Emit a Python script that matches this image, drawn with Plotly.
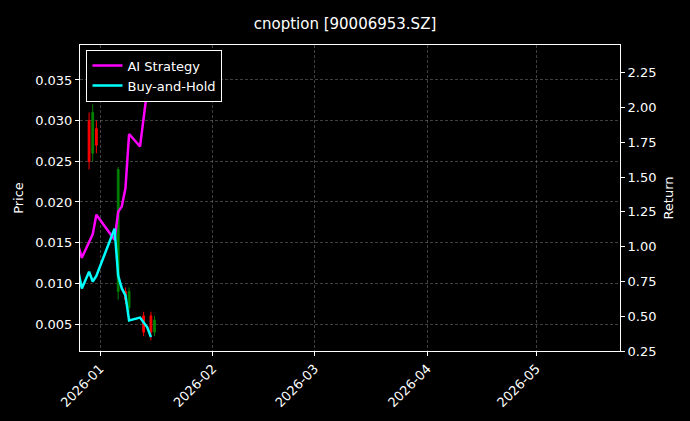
import plotly.graph_objects as go

candle_dates = ["2025-12-26","2025-12-29","2025-12-30","2025-12-31","2026-01-06","2026-01-08","2026-01-09","2026-01-13","2026-01-15","2026-01-16"]
opens  = [0.025,0.030,0.026,0.029,0.009,0.0090,0.0070,0.0060,0.0060,0.0040]
closes = [0.0295,0.025,0.031,0.027,0.024,0.0080,0.0090,0.0040,0.0040,0.0055]
highs  = [0.0300,0.031,0.032,0.030,0.0243,0.0095,0.0095,0.0065,0.0065,0.0060]
lows   = [0.0245,0.024,0.025,0.026,0.0080,0.0075,0.0065,0.0035,0.0030,0.0035]

ai_dates = ["2025-12-26","2025-12-27","2025-12-30","2025-12-31","2026-01-05","2026-01-06","2026-01-07","2026-01-08","2026-01-09","2026-01-12","2026-01-14","2026-01-15"]
ai_ret = [1.01,0.92,1.09,1.23,1.05,1.25,1.29,1.42,1.81,1.72,2.13,2.27]
bh_dates = ["2025-12-26","2025-12-27","2025-12-29","2025-12-30","2025-12-31","2026-01-05","2026-01-06","2026-01-07","2026-01-08","2026-01-09","2026-01-12","2026-01-14","2026-01-15"]
bh_ret = [0.83,0.70,0.82,0.75,0.79,1.13,0.79,0.70,0.65,0.47,0.49,0.42,0.35]

fig = go.Figure()
fig.add_trace(go.Candlestick(x=candle_dates, open=opens, high=highs, low=lows, close=closes,
    increasing=dict(line=dict(color="green", width=1), fillcolor="green"),
    decreasing=dict(line=dict(color="red", width=1), fillcolor="red"),
    whiskerwidth=0, showlegend=False))
fig.add_trace(go.Scatter(x=ai_dates, y=ai_ret, yaxis="y2", mode="lines", name="AI Strategy",
                         line=dict(color="#ff00ff", width=2.5)))
fig.add_trace(go.Scatter(x=bh_dates, y=bh_ret, yaxis="y2", mode="lines", name="Buy-and-Hold",
                         line=dict(color="#00ffff", width=2.5)))

grid = dict(showgrid=True, gridcolor="rgba(128,128,128,0.5)", griddash="3px,2px", gridwidth=0.5)
fig.update_layout(
    width=690, height=421, paper_bgcolor="black", plot_bgcolor="black",
    font=dict(family="DejaVu Sans", color="white", size=13),
    title=dict(text="cnoption [90006953.SZ]", x=0.5, xanchor="center", y=0.955, font=dict(size=15)),
    margin=dict(l=80, r=70, t=45, b=70),
    xaxis=dict(type="date", range=["2025-12-26 12:00","2026-05-24"], rangeslider=dict(visible=False),
               tickvals=["2026-01-01","2026-02-01","2026-03-01","2026-04-01","2026-05-01"],
               ticktext=["2026-01","2026-02","2026-03","2026-04","2026-05"], tickangle=-45,
               showline=True, linecolor="white", mirror=True, ticks="outside", tickcolor="white", ticklen=4, **grid),
    yaxis=dict(title=dict(text="Price", font=dict(size=13), standoff=8), range=[0.00168,0.0393], tickformat=".3f", dtick=0.005,
               showline=True, linecolor="white", mirror=True, ticks="outside", tickcolor="white", ticklen=4, **grid),
    yaxis2=dict(title=dict(text="Return", font=dict(size=13), standoff=8), overlaying="y", side="right", range=[0.25,2.45], dtick=0.25,
                tickformat=".2f", showgrid=False, ticks="outside", tickcolor="white", ticklen=4),
    legend=dict(x=0.012, y=0.985, xanchor="left", yanchor="top", bgcolor="black",
                bordercolor="white", borderwidth=1, font=dict(size=13)),
)
fig.write_html("out.html", config=dict(displayModeBar=False))
with open("out.html") as f:
    html = f.read()
html = html.replace("<head>", "<head><style>html,body{margin:0;padding:0;background:black;}</style>", 1)
with open("out.html", "w") as f:
    f.write(html)
